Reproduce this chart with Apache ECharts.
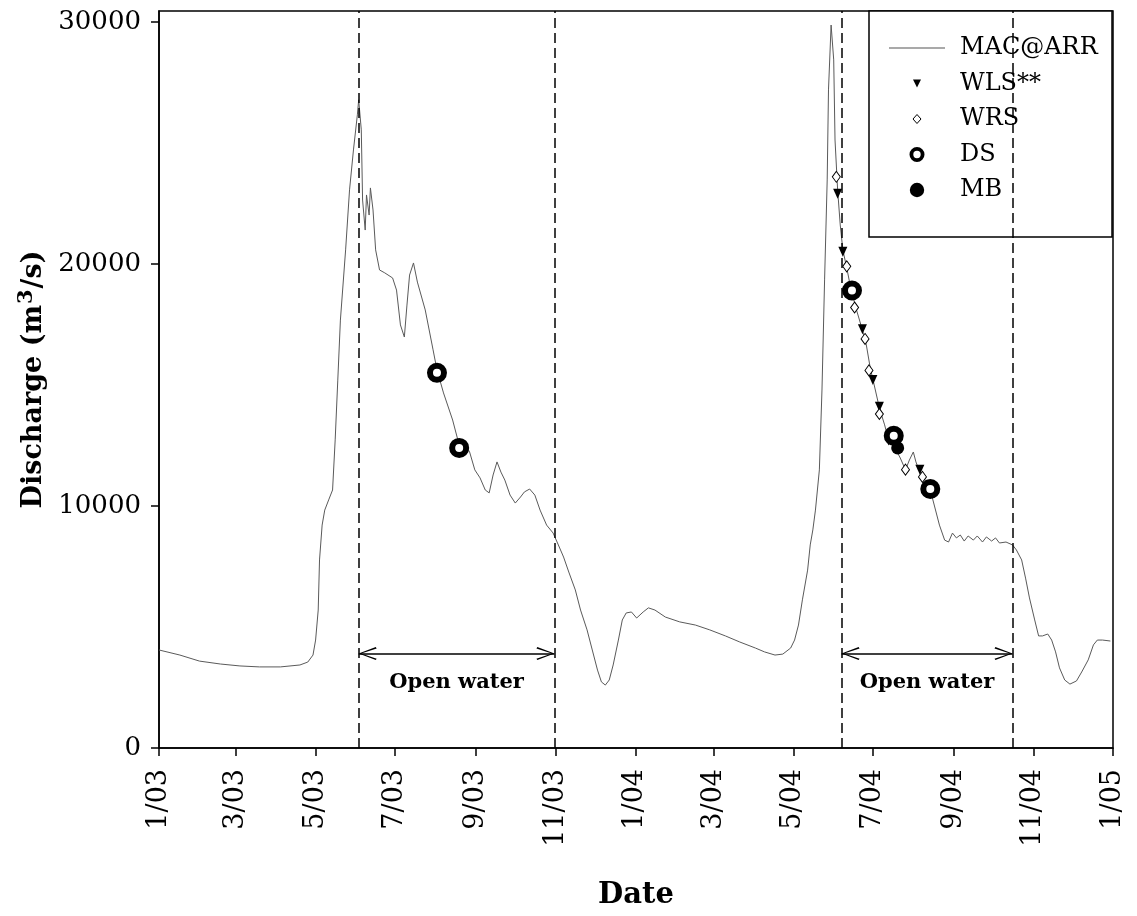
<!DOCTYPE html>
<html>
<head>
<meta charset="utf-8">
<script src="https://cdn.jsdelivr.net/npm/echarts@6/dist/echarts.min.js"></script>
<style>html,body{margin:0;padding:0;background:#fff;}#chart{width:1137px;height:916px;}</style>
</head>
<body>
<div id="chart"></div>
<script>
// ---- data (day = days since 2003-01-01) ----
const startDate = '2003-01-01';
const tickDates = ['2003-01-01','2003-03-01','2003-05-01','2003-07-01','2003-09-01','2003-11-01','2004-01-01','2004-03-01','2004-05-01','2004-07-01','2004-09-01','2004-11-01','2005-01-01'];
const tickLabels = ['1/03','3/03','5/03','7/03','9/03','11/03','1/04','3/04','5/04','7/04','9/04','11/04','1/05'];
const yTicks = [0, 10000, 20000, 30000];

const macDay = [0,16,31,47,62,77,93,108,114,118,120,122,123,125,127,130,133,135,137,139,143,146,149,152,153,155,156,158,159,161,162,164,166,169,173,179,182,185,188,190,192,195,198,204,210,213,218,225,230,234,238,242,246,250,253,256,259,262,265,269,273,277,280,284,288,292,297,302,306,310,314,319,323,328,332,336,339,342,345,348,352,355,358,362,366,371,375,380,388,399,411,422,434,445,457,464,472,478,484,487,490,493,497,499,501,503,506,508,510,512,513,515,517,518,520,522,524,527,530,534,539,542,545,548,552,556,559,564,568,572,575,578,580,583,587,591,594,598,602,605,608,611,614,617,620,624,627,631,634,638,641,644,649,654,657,661,664,667,671,674,677,681,684,687,690,694,698,703,707,712,716,719,723,729];
const macQ = [4050,3840,3590,3470,3390,3350,3350,3430,3550,3840,4460,5700,7770,9210,9830,10250,10660,12730,15200,17680,20580,23060,24710,26160,26780,25540,22640,21400,22850,22020,23140,22230,20580,19750,19630,19420,18920,17480,16980,18300,19540,20040,19250,18100,16450,15620,14670,13550,12520,12600,12230,11490,11160,10660,10540,11280,11820,11400,11070,10450,10120,10370,10580,10700,10450,9830,9210,8880,8390,7890,7270,6530,5700,4880,4050,3220,2730,2600,2810,3430,4460,5290,5580,5620,5370,5620,5790,5700,5410,5210,5080,4880,4630,4380,4130,3970,3840,3880,4130,4460,5080,6120,7350,8390,9010,9830,11490,14790,19340,23470,27190,29870,28430,25120,23060,21610,20580,19830,19010,18180,17270,16650,15700,15000,14050,13350,12730,12400,11980,11490,11900,12230,11820,11400,11070,10660,10040,9210,8590,8510,8880,8680,8800,8550,8760,8590,8760,8510,8720,8550,8680,8470,8510,8390,8180,7770,7020,6200,5290,4630,4630,4710,4460,3970,3310,2810,2640,2770,3140,3640,4260,4460,4460,4420];

const wlsDay = [520, 524, 539, 547, 552, 559, 583];
const wlsQ   = [22900, 20500, 17300, 15200, 14100, 12700, 11500];
const wrsDay = [519, 527, 533, 541, 544, 552, 572, 585];
const wrsQ   = [23600, 19900, 18200, 16900, 15600, 13800, 11500, 11200];
const dsDay  = [213, 230, 531, 563, 591];
const dsQ    = [15500, 12400, 18900, 12900, 10700];
const mbDay  = [566];
const mbQ    = [12400];

const owStart = [153, 523];   // open-water period start (day)
const owEnd   = [303, 654];   // open-water period end (day)
const owArrowQ = 3900;        // arrow level
const owLabel = 'Open water';

// ---- helpers ----
function dayOf(s) {
  const a = s.split('-').map(Number), b = startDate.split('-').map(Number);
  return Math.round((Date.UTC(a[0], a[1]-1, a[2]) - Date.UTC(b[0], b[1]-1, b[2])) / 86400000);
}
const tickDays = tickDates.map(dayOf);
const pairs = (xs, ys) => xs.map((x, i) => [x, ys[i]]);
const FONT = 'DejaVu Serif';

const chart = echarts.init(document.getElementById('chart'), null, {renderer: 'canvas'});
const option = {
  animation: false,
  backgroundColor: '#fff',
  grid: {left: 159, right: 24, top: 11, bottom: 168, show: true, borderColor: '#000', borderWidth: 1.5,
         backgroundColor: 'rgba(0,0,0,0)', outerBoundsMode: 'none'},
  xAxis: {
    type: 'value', min: 0, max: tickDays[tickDays.length-1],
    axisLine: {show: true, lineStyle: {color: '#000', width: 1.5}},
    axisTick: {show: true, customValues: tickDays, length: 8, inside: false, lineStyle: {color: '#000', width: 1.5}},
    axisLabel: {customValues: tickDays, rotate: 90, margin: 21, fontSize: 27, fontFamily: FONT, color: '#000',
                formatter: v => { const i = tickDays.indexOf(Math.round(v)); return i >= 0 ? tickLabels[i] : ''; }},
    splitLine: {show: false},
    name: 'Date', nameLocation: 'middle', nameGap: 133,
    nameTextStyle: {fontSize: 29, fontWeight: 'bold', fontFamily: FONT, color: '#000'}
  },
  yAxis: {
    type: 'value', min: 0, max: 30450,
    axisLine: {show: true, lineStyle: {color: '#000', width: 1.5}},
    axisTick: {show: true, customValues: yTicks, length: 8, inside: false, lineStyle: {color: '#000', width: 1.5}},
    axisLabel: {customValues: yTicks, margin: 18, fontSize: 26, fontFamily: FONT, color: '#000',
                formatter: v => String(v)},
    splitLine: {show: false},
    name: 'Discharge (m{sup|3}/s)', nameLocation: 'middle', nameGap: 100, nameRotate: 90,
    nameTextStyle: {fontSize: 27, fontWeight: 'bold', fontFamily: FONT, color: '#000',
      rich: {sup: {fontSize: 21, fontWeight: 'bold', fontFamily: FONT, color: '#000', verticalAlign: 'top', padding: [0, 1, 14, 1]}}}
  },
  legend: {
    left: 889, top: 36, orient: 'vertical', padding: 0, itemWidth: 56, itemHeight: 20, itemGap: 11.5,
    selectedMode: false, z: 10,
    textStyle: {fontFamily: FONT, fontSize: 24, color: '#000', padding: [0, 0, 0, 10], lineHeight: 24},
    data: [
      {name: 'MAC@ARR', icon: 'path://M0,9.5L56,9.5L56,10.5L0,10.5Z', itemStyle: {color: '#555', borderWidth: 0}},
      {name: 'WLS**', icon: 'path://M0,0M20,20M6,6L14,6L10,14Z', itemStyle: {color: '#000', borderWidth: 0, opacity: 1}},
      {name: 'WRS', icon: 'path://M0,0M20,20M10,5.5L14,10L10,14.5L6,10Z', itemStyle: {color: '#fff', borderColor: '#000', borderWidth: 1, opacity: 1}},
      {name: 'DS', icon: 'path://M0,0M20,20M15.6,10A5.6,5.6 0 1 1 4.4,10A5.6,5.6 0 1 1 15.6,10Z', itemStyle: {color: '#fff', borderColor: '#000', borderWidth: 3.8, opacity: 1}},
      {name: 'MB', icon: 'path://M0,0M20,20M17.2,10A7.2,7.2 0 1 1 2.8,10A7.2,7.2 0 1 1 17.2,10Z', itemStyle: {color: '#000', borderWidth: 0, opacity: 1}}
    ]
  },
  graphic: [{type: 'rect', shape: {x: 869, y: 11, width: 243, height: 226}, style: {fill: '#fff', stroke: '#000', lineWidth: 1.5}, z: 3, silent: true}],
  series: [
    {name: 'MAC@ARR', type: 'line', data: pairs(macDay, macQ), symbol: 'none', showSymbol: false,
     lineStyle: {color: '#5a5a5a', width: 1}, itemStyle: {color: '#5a5a5a'}, z: 2},
    {name: 'bounds', type: 'line', data: [], silent: true, z: 2,
     markLine: {silent: true, symbol: ['none', 'none'], label: {show: false},
       lineStyle: {color: '#000', width: 1.5, type: [10, 5]},
       data: owStart.concat(owEnd).map(d => ({xAxis: d}))}},
    {name: 'arrows', type: 'line', data: [], silent: true, z: 2,
     markLine: {silent: true,
       symbol: ['path://M7,0L14,17L12.6,17.9L7,2.6L1.4,17.9L0,17Z', 'path://M7,0L14,17L12.6,17.9L7,2.6L1.4,17.9L0,17Z'],
       symbolSize: [13, 18], symbolOffset: [[0, 9], [0, 9]],
       lineStyle: {color: '#000', width: 1.6, type: 'solid'},
       itemStyle: {color: '#000'},
       label: {show: true, formatter: owLabel, position: 'insideMiddleBottom', distance: 18,
               fontFamily: FONT, fontSize: 21, fontWeight: 'bold', color: '#000'},
       data: owStart.map((s, i) => [{coord: [s, owArrowQ]}, {coord: [owEnd[i], owArrowQ]}])}},
    {name: 'WLS**', type: 'scatter', data: pairs(wlsDay, wlsQ), symbol: 'triangle', symbolRotate: 180, symbolSize: [9, 10],
     itemStyle: {color: '#000', opacity: 1}, z: 4},
    {name: 'WRS', type: 'scatter', data: pairs(wrsDay, wrsQ), symbol: 'diamond', symbolSize: [8, 11],
     itemStyle: {color: '#fff', borderColor: '#000', borderWidth: 1, opacity: 1}, z: 4},
    {name: 'DS', type: 'scatter', data: pairs(dsDay, dsQ), symbol: 'circle', symbolSize: 14,
     itemStyle: {color: '#fff', borderColor: '#000', borderWidth: 6, opacity: 1}, z: 5},
    {name: 'MB', type: 'scatter', data: pairs(mbDay, mbQ), symbol: 'circle', symbolSize: 13,
     itemStyle: {color: '#000', opacity: 1}, z: 6}
  ]
};
chart.setOption(option);
</script>
</body>
</html>
